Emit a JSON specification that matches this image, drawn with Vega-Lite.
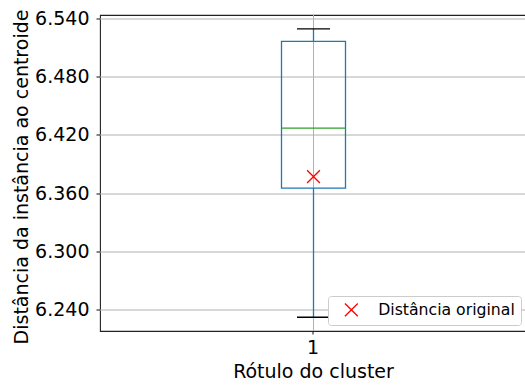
{
  "$schema": "https://vega.github.io/schema/vega-lite/v6.json",
  "width": 427,
  "height": 316,
  "autosize": {"type": "none"},
  "padding": {"left": 100, "top": 15, "right": 0, "bottom": 56},
  "config": {
    "font": "DejaVu Sans",
    "view": {"stroke": "#222222", "strokeWidth": 1.1},
    "axis": {
      "domain": false,
      "grid": true,
      "gridColor": "#b0b0b0",
      "gridWidth": 1,
      "tickColor": "#222222",
      "tickSize": 3.5,
      "tickWidth": 1.1,
      "translate": 0,
      "zindex": 0,
      "labelFont": "DejaVu Sans",
      "labelFontSize": 19,
      "labelColor": "#000000",
      "titleFont": "DejaVu Sans",
      "titleFontSize": 19,
      "titleFontWeight": "normal",
      "titleColor": "#000000"
    }
  },
  "data": {
    "values": [
      {"cluster": "1", "min": 6.2325, "q1": 6.3656, "median": 6.4275, "q3": 6.517, "max": 6.5297, "original": 6.3775, "label": "Distância original"}
    ]
  },
  "encoding": {
    "x": {
      "field": "cluster",
      "type": "nominal",
      "axis": {
        "title": "Rótulo do cluster",
        "labelAngle": 0,
        "bandPosition": 0.5,
        "grid": false,
        "labelPadding": 4.5,
        "titleBaseline": "alphabetic",
        "titleY": 47.3
      }
    }
  },
  "layer": [
    {
      "mark": {"type": "rule", "stroke": "#b0b0b0", "strokeWidth": 1},
      "encoding": {}
    },
    {
      "mark": {"type": "bar", "size": 64, "fill": "transparent", "stroke": "#1f77b4", "strokeWidth": 1.3},
      "encoding": {
        "y": {
          "field": "q1",
          "type": "quantitative",
          "scale": {"domain": [6.2183, 6.5441], "nice": false, "zero": false},
          "axis": {
            "title": "Distância da instância ao centroide",
            "values": [6.24, 6.30, 6.36, 6.42, 6.48, 6.54],
            "format": ".3f",
            "labelPadding": 7,
            "titleAngle": 270,
            "titleAlign": "center",
            "titleBaseline": "alphabetic",
            "titleX": -72,
            "titleY": 162
          }
        },
        "y2": {"field": "q3"}
      }
    },
    {
      "mark": {"type": "rule", "stroke": "#1f77b4", "strokeWidth": 1.3},
      "encoding": {"y": {"field": "min", "type": "quantitative"}, "y2": {"field": "q1"}}
    },
    {
      "mark": {"type": "rule", "stroke": "#1f77b4", "strokeWidth": 1.3},
      "encoding": {"y": {"field": "q3", "type": "quantitative"}, "y2": {"field": "max"}}
    },
    {
      "mark": {"type": "tick", "size": 64, "thickness": 1.3, "color": "#2ca02c", "opacity": 1},
      "encoding": {"y": {"field": "median", "type": "quantitative"}}
    },
    {
      "mark": {"type": "tick", "size": 33, "thickness": 1.3, "color": "#000000", "opacity": 1},
      "encoding": {"y": {"field": "min", "type": "quantitative"}}
    },
    {
      "mark": {"type": "tick", "size": 33, "thickness": 1.3, "color": "#000000", "opacity": 1},
      "encoding": {"y": {"field": "max", "type": "quantitative"}}
    },
    {
      "mark": {"type": "point", "shape": "M-1,-1L1,1M-1,1L1,-1", "size": 165, "filled": false, "strokeWidth": 1.3, "opacity": 1},
      "encoding": {
        "y": {"field": "original", "type": "quantitative"},
        "color": {
          "field": "label",
          "type": "nominal",
          "scale": {"range": ["#ff0000"]},
          "legend": {
            "orient": "none",
            "legendX": 228,
            "legendY": 281,
            "title": null,
            "labelFont": "DejaVu Sans",
            "labelFontSize": 15.7,
            "labelColor": "#000000",
            "padding": 6,
            "fillColor": "#ffffff",
            "strokeColor": "#cccccc",
            "cornerRadius": 3,
            "symbolType": "M-1,-1L1,1M-1,1L1,-1",
            "symbolSize": 165,
            "symbolStrokeWidth": 1.3,
            "symbolOffset": 9.5,
            "labelOffset": 19
          }
        }
      }
    }
  ]
}
